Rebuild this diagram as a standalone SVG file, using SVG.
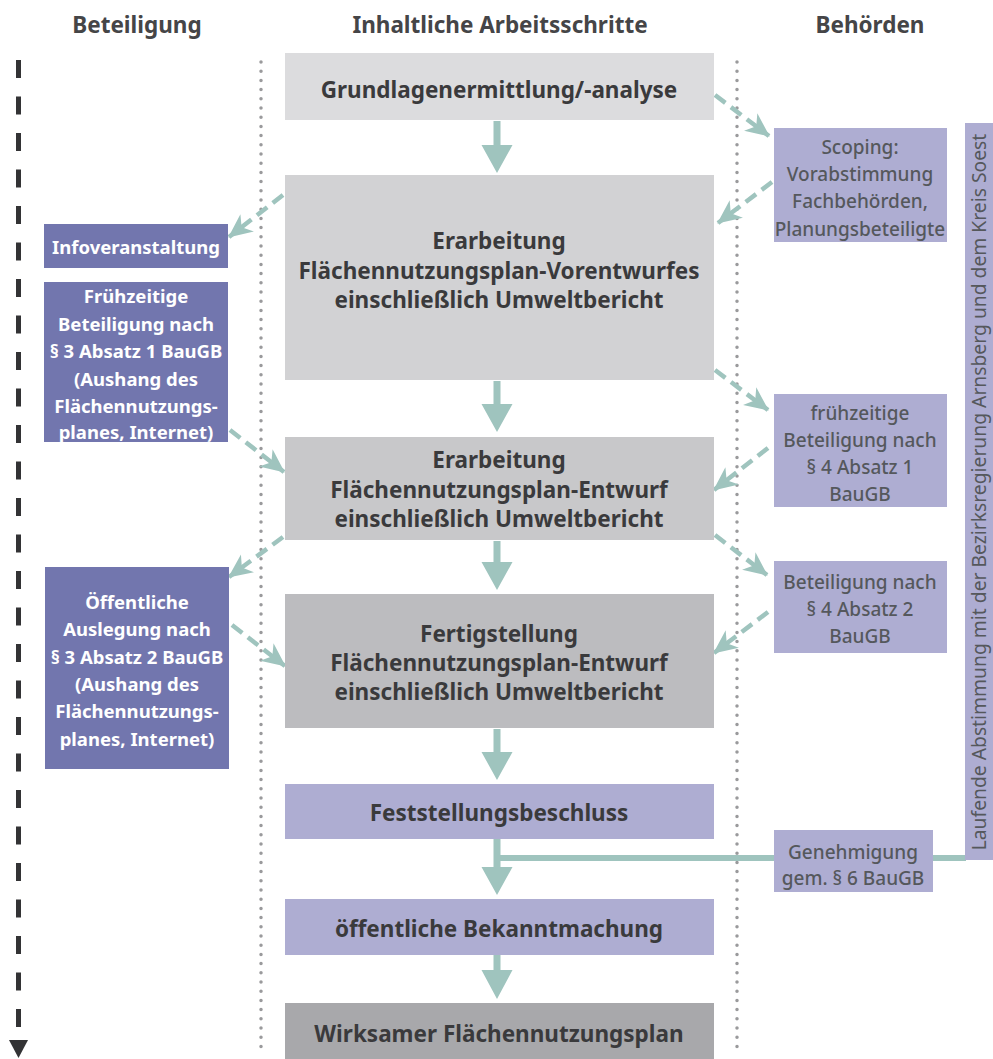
<svg xmlns="http://www.w3.org/2000/svg" width="993" height="1059" viewBox="0 0 993 1059">
<defs>
<style>
text{font-family:"Noto Sans","Open Sans","DejaVu Sans",sans-serif;}
.hdr{font-size:22.5px;font-weight:700;fill:#454547;text-anchor:middle;}
.main{font-size:22.5px;font-weight:700;fill:#3a3a3c;text-anchor:middle;}
.left{font-size:18.5px;font-weight:700;fill:#ffffff;text-anchor:middle;}
.right{font-size:19px;font-weight:500;fill:#55585c;text-anchor:middle;}
.lbox{fill:#7276ae;}
.rbox{fill:#aeadd2;}
.dash{fill:none;stroke:#9fc4be;stroke-width:4.5;stroke-dasharray:13 7;marker-end:url(#ah);}
.solid{fill:#9fc4be;}
.dot{fill:none;stroke:#9a9a9c;stroke-width:3.5;stroke-linecap:round;stroke-dasharray:0 9.2;}
</style>
<marker id="ah" viewBox="0 0 24 24" refX="23" refY="12" markerWidth="24" markerHeight="24" markerUnits="userSpaceOnUse" orient="auto">
<path d="M0,1 L24,12 L0,23 L7,12 Z" fill="#9fc4be" stroke="none"/>
</marker>
</defs>

<g id="headers">
<text class="hdr" x="137" y="33">Beteiligung</text>
<text class="hdr" x="500" y="33">Inhaltliche Arbeitsschritte</text>
<text class="hdr" x="870" y="33">Behörden</text>
</g>

<g id="guides">
<line class="dot" x1="261" y1="62" x2="261" y2="1055"/>
<line class="dot" x1="737" y1="62" x2="737" y2="1055"/>
<line x1="18.5" y1="60" x2="18.5" y2="1040" stroke="#333335" stroke-width="5" stroke-dasharray="18 18.5"/>
<path d="M9,1040 L28,1040 L18.5,1058 Z" fill="#333335"/>
</g>

<g id="connectors">
<path class="solid" d="M493.5,121 h7 v24 h12 l-15.5,28 l-15.5,-28 h12 z"/>
<path class="solid" d="M493.5,381 h7 v23 h12 l-15.5,28 l-15.5,-28 h12 z"/>
<path class="solid" d="M493.5,541 h7 v21 h12 l-15.5,28 l-15.5,-28 h12 z"/>
<path class="solid" d="M493.5,729 h7 v23 h12 l-15.5,28 l-15.5,-28 h12 z"/>
<path class="solid" d="M493.5,839 h7 v28 h12 l-15.5,28 l-15.5,-28 h12 z"/>
<path class="solid" d="M493.5,955 h7 v15 h12 l-15.5,29 l-15.5,-29 h12 z"/>
<line x1="497" y1="858" x2="966" y2="858" stroke="#9fc4be" stroke-width="6"/>
<path class="dash" d="M715,95 L769,136"/>
<path class="dash" d="M772,182 L718,223"/>
<path class="dash" d="M283,195 L229,237"/>
<path class="dash" d="M715,370 L768,410"/>
<path class="dash" d="M768,448 L714,490"/>
<path class="dash" d="M715,535 L767,575"/>
<path class="dash" d="M768,612 L714,653"/>
<path class="dash" d="M230,430 L284,472"/>
<path class="dash" d="M283,537 L229,577"/>
<path class="dash" d="M232,625 L285,666"/>
</g>

<g id="n-grundlagen">
<rect x="285" y="53" width="429" height="67" fill="#dcdcde"/>
<text class="main" x="499" y="98">Grundlagenermittlung/-analyse</text>
</g>
<g id="n-vorentwurf">
<rect x="285" y="175" width="429" height="205" fill="#d2d2d4"/>
<text class="main" x="499" y="249">Erarbeitung</text>
<text class="main" x="499" y="279">Flächennutzungsplan-Vorentwurfes</text>
<text class="main" x="499" y="308">einschließlich Umweltbericht</text>
</g>
<g id="n-entwurf">
<rect x="285" y="437" width="429" height="103" fill="#c8c8ca"/>
<text class="main" x="499" y="468">Erarbeitung</text>
<text class="main" x="499" y="498">Flächennutzungsplan-Entwurf</text>
<text class="main" x="499" y="527">einschließlich Umweltbericht</text>
</g>
<g id="n-fertigstellung">
<rect x="285" y="594" width="429" height="134" fill="#bcbcbf"/>
<text class="main" x="499" y="642">Fertigstellung</text>
<text class="main" x="499" y="671">Flächennutzungsplan-Entwurf</text>
<text class="main" x="499" y="700">einschließlich Umweltbericht</text>
</g>
<g id="n-feststellung">
<rect x="285" y="784" width="429" height="55" fill="#aeadd2"/>
<text class="main" x="499" y="821">Feststellungsbeschluss</text>
</g>
<g id="n-bekanntmachung">
<rect x="285" y="899" width="429" height="56" fill="#aeadd2"/>
<text class="main" x="499" y="937">öffentliche Bekanntmachung</text>
</g>
<g id="n-wirksam">
<rect x="285" y="1003" width="429" height="56" fill="#a8a8ab"/>
<text class="main" x="499" y="1042">Wirksamer Flächennutzungsplan</text>
</g>

<g id="n-info">
<rect class="lbox" x="44" y="224" width="184" height="44"/>
<text class="left" x="136" y="254">Infoveranstaltung</text>
</g>
<g id="n-fruehzeitig-links">
<rect class="lbox" x="44" y="282" width="184" height="160"/>
<text class="left" x="136" y="303">Frühzeitige</text>
<text class="left" x="136" y="331">Beteiligung nach</text>
<text class="left" x="136" y="358">§ 3 Absatz 1 BauGB</text>
<text class="left" x="136" y="386">(Aushang des</text>
<text class="left" x="136" y="413">Flächennutzungs-</text>
<text class="left" x="136" y="439">planes, Internet)</text>
</g>
<g id="n-oeffentlich">
<rect class="lbox" x="45" y="567" width="184" height="202"/>
<text class="left" x="137" y="609">Öffentliche</text>
<text class="left" x="137" y="636">Auslegung nach</text>
<text class="left" x="137" y="664">§ 3 Absatz 2 BauGB</text>
<text class="left" x="137" y="691">(Aushang des</text>
<text class="left" x="137" y="718">Flächennutzungs-</text>
<text class="left" x="137" y="746">planes, Internet)</text>
</g>

<g id="n-scoping">
<rect class="rbox" x="774" y="128" width="173" height="114"/>
<text class="right" x="860" y="154">Scoping:</text>
<text class="right" x="860" y="181">Vorabstimmung</text>
<text class="right" x="860" y="208">Fachbehörden,</text>
<text class="right" x="860" y="236">Planungsbeteiligte</text>
</g>
<g id="n-fruehzeitig-rechts">
<rect class="rbox" x="774" y="394" width="173" height="113"/>
<text class="right" x="860" y="420">frühzeitige</text>
<text class="right" x="860" y="447">Beteiligung nach</text>
<text class="right" x="860" y="474">§ 4 Absatz 1</text>
<text class="right" x="860" y="501">BauGB</text>
</g>
<g id="n-beteiligung42">
<rect class="rbox" x="774" y="561" width="173" height="92"/>
<text class="right" x="860" y="589">Beteiligung nach</text>
<text class="right" x="860" y="616">§ 4 Absatz 2</text>
<text class="right" x="860" y="643">BauGB</text>
</g>
<g id="n-genehmigung">
<rect class="rbox" x="774" y="830" width="159" height="62"/>
<text class="right" x="853" y="859">Genehmigung</text>
<text class="right" x="853" y="885">gem. § 6 BauGB</text>
</g>
<g id="n-laufend">
<rect class="rbox" x="965" y="123" width="28" height="737"/>
<text class="right" transform="translate(986,492) rotate(-90)" x="0" y="0" style="font-weight:400;font-size:19.3px">Laufende Abstimmung mit der Bezirksregierung Arnsberg und dem Kreis Soest</text>
</g>
</svg>
